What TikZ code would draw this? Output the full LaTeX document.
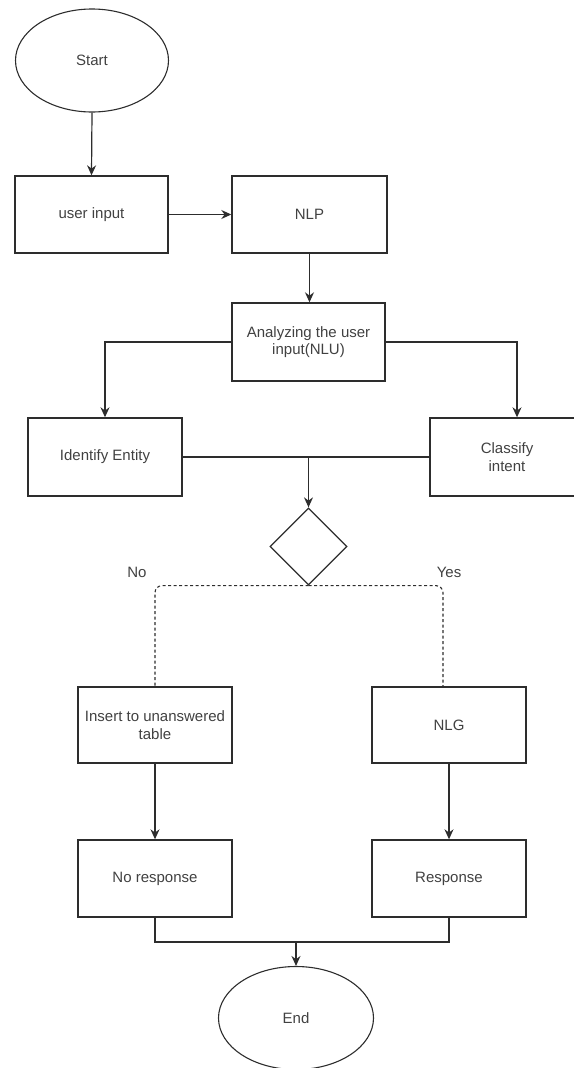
\documentclass[tikz,border=0pt]{standalone}
\usepackage{fontspec}
\setmainfont{Liberation Sans}
\usepackage{xcolor}
\usetikzlibrary{shapes.geometric,arrows.meta}

\definecolor{linegray}{RGB}{45,45,45}
\definecolor{textgray}{RGB}{65,65,65}

\tikzset{
  procbox/.style={draw=linegray, line width=1.4pt, minimum width=153pt, minimum height=77pt,
    inner sep=2pt, align=center, text=textgray, font=\fontsize{15}{17.5}\selectfont},
  termnode/.style={draw=linegray, ellipse, line width=1.1pt, minimum width=153pt, minimum height=103pt,
    inner sep=0pt, text=textgray, font=\fontsize{15}{17.5}\selectfont},
  decnode/.style={draw=linegray, diamond, line width=1.3pt, minimum width=77pt, minimum height=77pt, inner sep=0pt},
  flow/.style={draw=linegray, line width=1.2pt, -{Stealth[length=10pt,width=9pt]}},
  link/.style={draw=linegray, line width=1.2pt},
  dashlink/.style={draw=linegray, line width=1.1pt, dash pattern=on 3pt off 2.5pt, rounded corners=7pt},
  branchlabel/.style={text=textgray, inner sep=0.75pt, font=\fontsize{15}{17.5}\selectfont},
}

\begin{document}
\begin{tikzpicture}[x=1pt,y=1pt,yscale=-1,xscale=1]
\useasboundingbox (0,0) rectangle (573,1068);

%Shape: Ellipse [start]
\node [termnode] (start) at (92,60.5) {Start};
%Shape: Rectangle [user input]
\node [procbox] (userin) at (91.5,214.5) {user input};
%Shape: Rectangle [NLP]
\node [procbox, minimum width=155pt] (nlp) at (309.5,214.5) {NLP};
%Shape: Rectangle [NLU]
\node [procbox, minimum height=78pt] (analyze) at (308.5,342) {Analyzing the user\\input(NLU)};
%Shape: Rectangle [entity]
\node [procbox, minimum width=154pt, minimum height=78pt] (ident) at (105,457) {Identify Entity};
%Shape: Rectangle [intent]
\node [procbox, minimum width=154pt, minimum height=78pt] (classify) at (507,457) {Classify\\intent};
%Shape: Diamond [decision]
\node [decnode] (dec) at (308.5,546.5) {};
%Shape: Rectangle [unanswered]
\node [procbox, minimum width=154pt, minimum height=76pt] (insert) at (155,725) {Insert to unanswered\\table};
%Shape: Rectangle [NLG]
\node [procbox, minimum width=154pt, minimum height=76pt] (nlg) at (449,725) {NLG};
%Shape: Rectangle [no response]
\node [procbox, minimum width=154pt] (nores) at (155,878.5) {No response};
%Shape: Rectangle [response]
\node [procbox, minimum width=154pt] (resp) at (449,878.5) {Response};
%Shape: Ellipse [end]
\node [termnode, minimum width=155pt] (end) at (296,1018) {End};

% Text Node
\node [branchlabel] (nolbl) at (137,572) {No};
% Text Node
\node [branchlabel] (yeslbl) at (449,572) {Yes};

%Connectors
\draw [flow] (start.south) -- (userin.north);
\draw [flow] (userin.east) -- (nlp.west);
\draw [flow] (nlp.south) -- (analyze.north -| nlp.south);
\draw [flow] (analyze.west) -| (ident.north);
\draw [flow] (analyze.east) -| ([xshift=10pt]classify.north);
\draw [link] (ident.east) -- (classify.west);
\coordinate (merge) at (ident.east -| dec.north);
\draw [flow] (merge) -- (dec.north);
\draw [dashlink] (dec.south) -| (insert.north);
\draw [dashlink] (dec.south) -| ([xshift=-6pt]nlg.north);
\draw [flow] (insert.south) -- (nores.north);
\draw [flow] (nlg.south) -- (resp.north);
\coordinate (join) at (296,942);
\draw [link] (nores.south) |- (join) -| (resp.south);
\draw [flow] (join) -- (end.north);

\end{tikzpicture}
\end{document}
